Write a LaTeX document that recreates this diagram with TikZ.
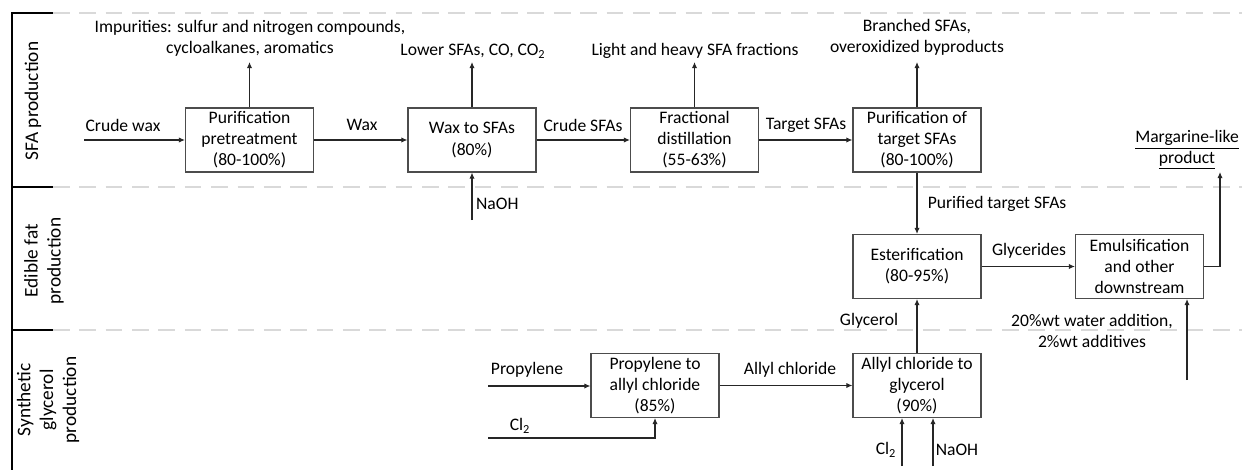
\documentclass[tikz,border=0pt]{standalone}
\usepackage{fontspec}
\setmainfont{Carlito}
\usetikzlibrary{arrows.meta,calc}
\begin{document}
\begin{tikzpicture}[x=0.2mm,y=-0.2mm,font=\fontsize{10}{12}\selectfont,
  box/.style={draw=black!70,line width=0.6pt,minimum width=25.6mm,minimum height=12.8mm,align=center,inner sep=1pt},
  flow/.style={draw=black!85,line width=0.6pt,-{Latex[length=3.5pt,width=3pt]}},
  txt/.style={align=center,inner sep=1pt},
  lane/.style={align=center,rotate=90,inner sep=1pt,font=\fontsize{11}{13}\selectfont},
  sep/.style={draw=black!15,line width=0.9pt,dash pattern=on 9.5pt off 5.5pt}]
\useasboundingbox (0,0) rectangle (1242,470);

% swim lanes
\draw[line width=0.9pt] (12,470) -- (12,13) -- (53,13);
\draw[line width=0.9pt] (12,187) -- (53,187);
\draw[line width=0.9pt] (12,330) -- (53,330);
\draw[sep] (53,13) -- (1242,13);
\draw[sep] (53,187) -- (1242,187);
\draw[sep] (53,330) -- (1242,330);
\node[lane] (lSFA) at (33,101) {SFA production};
\node[lane] (lFat) at (44,261) {Edible fat\\production};
\node[lane] (lGly) at (48,400) {Synthetic\\glycerol\\production};

% process blocks
\node[box] (pre)  at (249.5,140) {Purification\\pretreatment\\(80-100\%)};
\node[box] (wax)  at (472,140)   {Wax to SFAs\\(80\%)};
\node[box] (frac) at (694.5,140) {Fractional\\distillation\\(55-63\%)};
\node[box] (puri) at (917,140)   {Purification of\\target SFAs\\(80-100\%)};
\node[box] (este) at (917,266.5) {Esterification\\(80-95\%)};
\node[box] (emul) at (1139.5,266.5) {Emulsification\\and other\\downstream};
\node[box] (prop) at (655,385.5) {Propylene to\\allyl chloride\\(85\%)};
\node[box] (ally) at (917,385.5) {Allyl chloride to\\glycerol\\(90\%)};

% stream texts
\node[txt] (tCw)   at (123,125) {Crude wax};
\node[txt] (tWax)  at (362,125) {Wax};
\node[txt] (tCs)   at (583,125) {Crude SFAs};
\node[txt] (tTs)   at (806,125) {Target SFAs};
\node[txt] (tImp)  at (250,38)  {Impurities: sulfur and nitrogen compounds,\\cycloalkanes, aromatics};
\node[txt] (tLow)  at (473,51)  {Lower SFAs, CO, CO\textsubscript{2}};
\node[txt] (tLh)   at (695,51)  {Light and heavy SFA fractions};
\node[txt] (tBr)   at (917,37)  {Branched SFAs,\\overoxidized byproducts};
\node[txt] (tMarg) at (1187,150) {\underline{Margarine-like}\\\underline{product}};
\node[txt,anchor=west] (tNa1) at (474,204) {NaOH};
\node[txt] (tPur)  at (997,204) {Purified target SFAs};
\node[txt] (tGlyc) at (1029,251) {Glycerides};
\node[txt] (tGly)  at (869,321) {Glycerol};
\node[txt] (tWat)  at (1092,331) {20\%wt water addition,\\2\%wt additives};
\node[txt] (tPro)  at (527,370) {Propylene};
\node[txt] (tCl1)  at (520,426) {Cl\textsubscript{2}};
\node[txt] (tAc)   at (790,370) {Allyl chloride};
\node[txt] (tCl2)  at (886,450) {Cl\textsubscript{2}};
\node[txt] (tNa2)  at (957,450) {NaOH};

% free ends
\coordinate (cwIn)   at (84,140);
\coordinate (impOut) at (249.5,62);
\coordinate (lowOut) at (472,62);
\coordinate (lhOut)  at (694.5,62);
\coordinate (brOut)  at (917,62);
\coordinate (naIn)   at (472,220);
\coordinate (margOut) at (1220,172);
\coordinate (proIn)  at (488,386);
\coordinate (clIn)   at (488,438);
\coordinate (clIn2)  at (902,466);
\coordinate (naIn2)  at (933,466);
\coordinate (watIn)  at (1187,380);

% streams
\draw[flow] (cwIn) -- (pre);
\draw[flow] (pre) -- (wax);
\draw[flow] (wax) -- (frac);
\draw[flow] (frac) -- (puri);
\draw[flow] (pre) -- (impOut);
\draw[flow] (wax) -- (lowOut);
\draw[flow] (frac) -- (lhOut);
\draw[flow] (puri) -- (brOut);
\draw[flow] (naIn) -- (wax);
\draw[flow] (puri) -- (este);
\draw[flow] (este) -- (emul);
\draw[flow] (emul.east) -| (margOut);
\draw[flow] (proIn) -- (proIn -| prop.west);
\draw[flow] (clIn) -| (prop.south);
\draw[flow] (prop.east |- ally.west) -- (ally.west);
\draw[flow] (ally) -- (este);
\draw[flow] (clIn2) -- (clIn2 |- ally.south);
\draw[flow] (naIn2) -- (naIn2 |- ally.south);
\draw[flow] (watIn) -- (watIn |- emul.south);
\end{tikzpicture}
\end{document}
